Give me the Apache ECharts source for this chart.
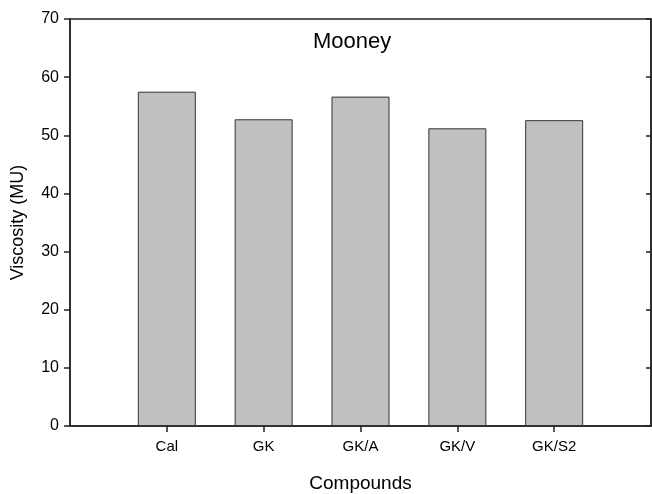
<!DOCTYPE html>
<html>
<head>
<meta charset="utf-8">
<script src="https://cdn.jsdelivr.net/npm/echarts@6/dist/echarts.min.js"></script>
<style>
  html, body { margin: 0; padding: 0; background: #fff; }
  #main { width: 652px; height: 494px; }
</style>
</head>
<body>
<div id="main"></div>
<script>
// 数据
const compounds = ['Cal', 'GK', 'GK/A', 'GK/V', 'GK/S2'];
const viscosity = [57.5, 52.75, 56.65, 51.2, 52.6];
const yTicks = [0, 10, 20, 30, 40, 50, 60, 70];

const font = 'Liberation Sans, Arial, sans-serif';
const lineColor = '#222';

// 两端留空的类目，让柱子居中
const cats = [''].concat(compounds, ['']);
const vals = [null].concat(viscosity, [null]);

const chart = echarts.init(document.getElementById('main'));

chart.setOption({
  backgroundColor: '#fff',
  animation: false,
  title: {
    text: 'Mooney',
    left: 308,
    top: 26,
    textStyle: { fontFamily: font, fontSize: 22, fontWeight: 'normal', color: '#000' }
  },
  grid: {
    left: 70,
    top: 19,
    width: 581,
    height: 407,
    outerBoundsMode: 'none',
    containLabel: false,
    show: true,
    borderColor: lineColor,
    borderWidth: 1.5,
    backgroundColor: 'transparent'
  },
  xAxis: {
    type: 'category',
    data: cats,
    boundaryGap: false,
    name: 'Compounds',
    nameLocation: 'middle',
    nameGap: 48,
    nameTextStyle: { fontFamily: font, fontSize: 19, color: '#000' },
    axisLine: { lineStyle: { color: lineColor, width: 1.5 } },
    axisTick: {
      length: 6,
      lineStyle: { color: lineColor, width: 1.5 },
      interval: (i) => i > 0 && i < cats.length - 1
    },
    axisLabel: {
      interval: 0,
      margin: 13,
      fontFamily: font,
      fontSize: 15,
      color: '#000'
    },
    splitLine: { show: false }
  },
  yAxis: [
    {
      type: 'value',
      min: yTicks[0],
      max: yTicks[yTicks.length - 1],
      interval: 10,
      name: 'Viscosity (MU)',
      nameLocation: 'middle',
      nameGap: 43,
      nameTextStyle: { fontFamily: font, fontSize: 18, color: '#000' },
      axisLine: { show: true, lineStyle: { color: lineColor, width: 1.5 } },
      axisTick: { show: true, length: 6, lineStyle: { color: lineColor, width: 1.5 } },
      axisLabel: { margin: 11, fontFamily: font, fontSize: 16, color: '#000' },
      splitLine: { show: false }
    },
    {
      type: 'value',
      position: 'right',
      min: yTicks[0],
      max: yTicks[yTicks.length - 1],
      interval: 10,
      axisLine: { show: true, lineStyle: { color: lineColor, width: 1.5 } },
      axisTick: { show: true, inside: true, length: 5, lineStyle: { color: lineColor, width: 1.5 } },
      axisLabel: { show: false },
      splitLine: { show: false }
    }
  ],
  series: [
    {
      type: 'bar',
      data: vals,
      barWidth: 58,
      itemStyle: { color: '#c0c0c0', borderColor: '#333', borderWidth: 1 }
    }
  ]
});
</script>
</body>
</html>
